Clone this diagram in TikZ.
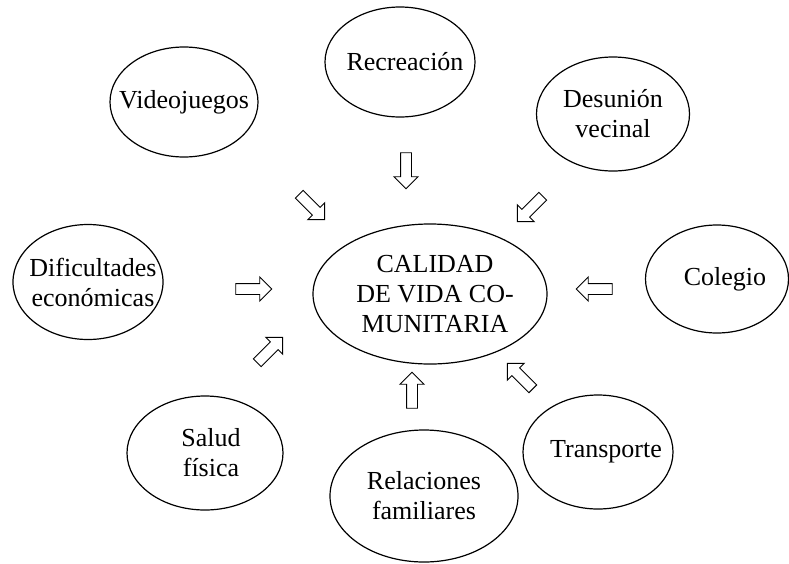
\documentclass[tikz,border=0pt]{standalone}
\usepackage{fontspec}
\setmainfont{Liberation Serif}
\usetikzlibrary{shapes.geometric, shapes.arrows}

\begin{document}
\begin{tikzpicture}[
    x=1pt, y=-1pt,
    every node/.style={font=\fontsize{26}{30}\selectfont, align=center},
    bubble/.style={draw=black, line width=1.2pt, ellipse, inner sep=0pt},
    push/.style={draw=black, line width=0.9pt, single arrow, inner xsep=0pt, inner ysep=5pt,
        minimum height=36pt, single arrow head extend=6.5pt}
]
   \useasboundingbox (0,0) rectangle (789,563);

   % centre
   \node[bubble, minimum width=234pt, minimum height=140pt,
         label={[xshift=5pt]center:{CALIDAD\\DE VIDA CO-\\MUNITARIA}}] (cvc) at (430,294) {};

   % surrounding factors
   \node[bubble, minimum width=148pt, minimum height=110pt, label=center:Videojuegos] (video) at (184,102) {};
   \node[bubble, minimum width=150pt, minimum height=110pt, label={[xshift=5pt]center:Recreación}] (recre) at (400,62) {};
   \node[bubble, minimum width=153pt, minimum height=114pt, label=center:{Desunión\\vecinal}] (desun) at (613,114) {};
   \node[bubble, minimum width=150pt, minimum height=115pt, label={[xshift=5pt]center:{Dificultades\\económicas}}] (dific) at (88,282) {};
   \node[bubble, minimum width=143pt, minimum height=108pt, label={[xshift=8pt]center:Colegio}] (coleg) at (717,279) {};
   \node[bubble, minimum width=156pt, minimum height=114pt, label={[xshift=6pt]center:{Salud\\física}}] (salud) at (205,453) {};
   \node[bubble, minimum width=188pt, minimum height=132pt, label=center:{Relaciones\\familiares}] (famil) at (424,496) {};
   \node[bubble, minimum width=150pt, minimum height=114pt, label={[xshift=8pt]center:Transporte}] (trans) at (598,452) {};

   % block arrows towards the centre
   \node[push, rotate=-90] (a-recre) at (406,168) {};
   \node[push, rotate=-45] (a-video) at (310,205) {};
   \node[push, rotate=-135] (a-desun) at (532,207) {};
   \node[push, rotate=0] (a-dific) at (251,289) {};
   \node[push, rotate=180] (a-coleg) at (597,289) {};
   \node[push, rotate=45] (a-salud) at (268,352) {};
   \node[push, rotate=90] (a-famil) at (412,393) {};
   \node[push, rotate=135] (a-trans) at (522,378) {};
\end{tikzpicture}
\end{document}
